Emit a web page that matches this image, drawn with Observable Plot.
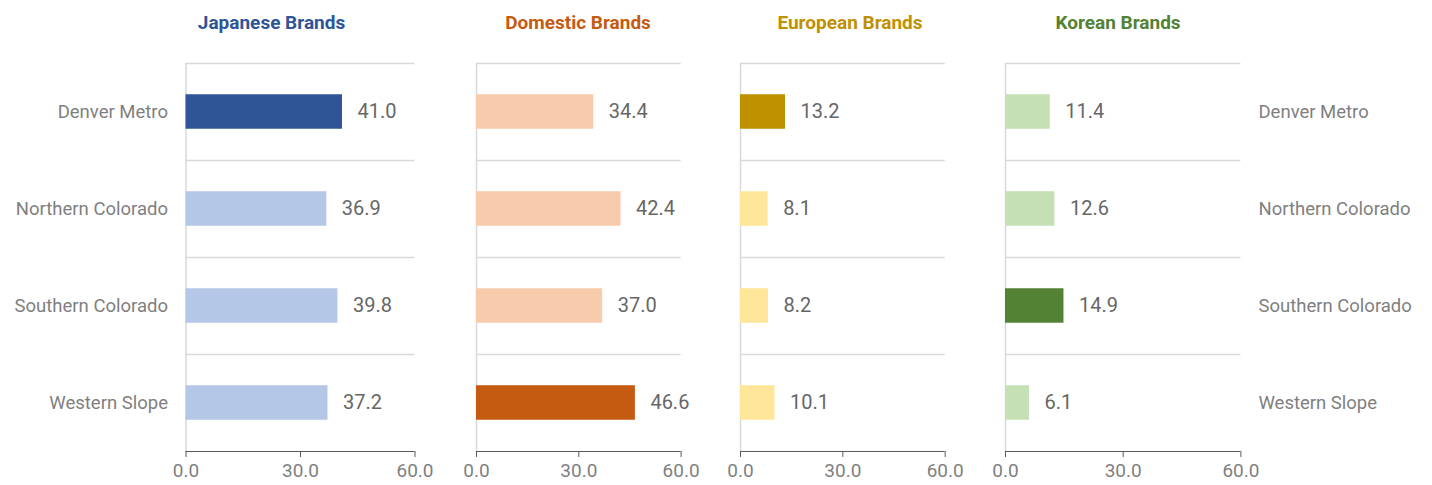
<!DOCTYPE html>
<html><head><meta charset="utf-8">
<script src="https://cdn.jsdelivr.net/npm/d3@7"></script>
<script src="https://cdn.jsdelivr.net/npm/@observablehq/plot@0.6"></script>
<style>
body{margin:0;background:#fff;}
#chart{position:relative;width:1432px;height:485px;font-family:Roboto, sans-serif;}
.title{position:absolute;top:12px;line-height:22px;font-weight:bold;font-size:19px;transform:translateX(-50%);white-space:nowrap;}
.panel{position:absolute;top:44px;}
</style></head><body><div id="chart"></div>
<script>
// ---- data ----
const regions = ["Denver Metro", "Northern Colorado", "Southern Colorado", "Western Slope"];
const brands = ["Japanese Brands", "Domestic Brands", "European Brands", "Korean Brands"];
const japanese = [41.0, 36.9, 39.8, 37.2];
const domestic = [34.4, 42.4, 37.0, 46.6];
const european = [13.2, 8.1, 8.2, 10.1];
const korean = [11.4, 12.6, 14.9, 6.1];
const xTicks = [0, 30, 60];
const xDomain = [0, 60];

// ---- layout & style ----
const series = [japanese, domestic, european, korean];
const layout = [
  {left: 0,      ml: 185.5, inner: 229,   mr: 25,    dark: "#2f5597", light: "#b4c7e7", titleX: 271.5},
  {left: 450.7,  ml: 25,    inner: 204.6, mr: 25,    dark: "#c55a11", light: "#f8cbad", titleX: 578},
  {left: 715.3,  ml: 25,    inner: 204.7, mr: 25,    dark: "#bf9000", light: "#ffe699", titleX: 850},
  {left: 980.3,  ml: 25,    inner: 235.4, mr: 191.3, dark: "#548235", light: "#c5e0b4", titleX: 1118}
];
const H = 440, MT = 19, MB = 33;
const step = (H - MT - MB) / regions.length;
const barH = 34.5;
const grid = "#d9d9d9", axisColor = "#595959", labelColor = "#7f7f7f", valueColor = "#666666";

const chart = document.getElementById("chart");

series.forEach((vals, k) => {
  const L = layout[k];
  const data = regions.map((r, i) => ({region: r, value: vals[i]}));
  const max = d3.max(vals);

  const t = document.createElement("div");
  t.className = "title";
  t.style.left = L.titleX + "px";
  t.style.color = L.dark;
  t.textContent = brands[k];
  chart.appendChild(t);

  const marks = [
    Plot.ruleY(regions, {y: d => d, dy: -step / 2, stroke: grid, strokeWidth: 1.5}),
    Plot.ruleX([0], {stroke: grid, strokeWidth: 1.5}),
    Plot.barX(data, {x: "value", y: "region", fill: d => d.value === max ? L.dark : L.light,
      insetTop: (step - barH) / 2, insetBottom: (step - barH) / 2}),
    Plot.text(data, {x: "value", y: "region", text: d => d.value.toFixed(1), dx: 15,
      textAnchor: "start", fill: valueColor, fontSize: 20}),
    Plot.ruleY([regions[regions.length - 1]], {y: d => d, dy: step / 2, stroke: axisColor, strokeWidth: 1}),
    Plot.axisX({ticks: xTicks, tickFormat: d3.format(".1f"), tickSize: 6, tickPadding: 6,
      stroke: axisColor, fill: labelColor, fontSize: 19, label: null})
  ];
  if (k === 0) marks.push(Plot.axisY({anchor: "left", tickSize: 0, tickPadding: 18, fill: labelColor, fontSize: 18.5, label: null}));
  if (k === series.length - 1) marks.push(Plot.axisY({anchor: "right", tickSize: 0, tickPadding: 17.6, fill: labelColor, fontSize: 18.5, label: null}));

  const p = Plot.plot({
    width: L.ml + L.inner + L.mr,
    height: H,
    marginLeft: L.ml, marginRight: L.mr, marginTop: MT, marginBottom: MB,
    x: {domain: xDomain, axis: null},
    y: {domain: regions, padding: 0, axis: null},
    style: {fontFamily: "Roboto, sans-serif", fontSize: "17px", background: "transparent", overflow: "visible"},
    marks
  });
  const wrap = document.createElement("div");
  wrap.className = "panel";
  wrap.style.left = L.left + "px";
  wrap.appendChild(p);
  chart.appendChild(wrap);
});
</script>
</body></html>
